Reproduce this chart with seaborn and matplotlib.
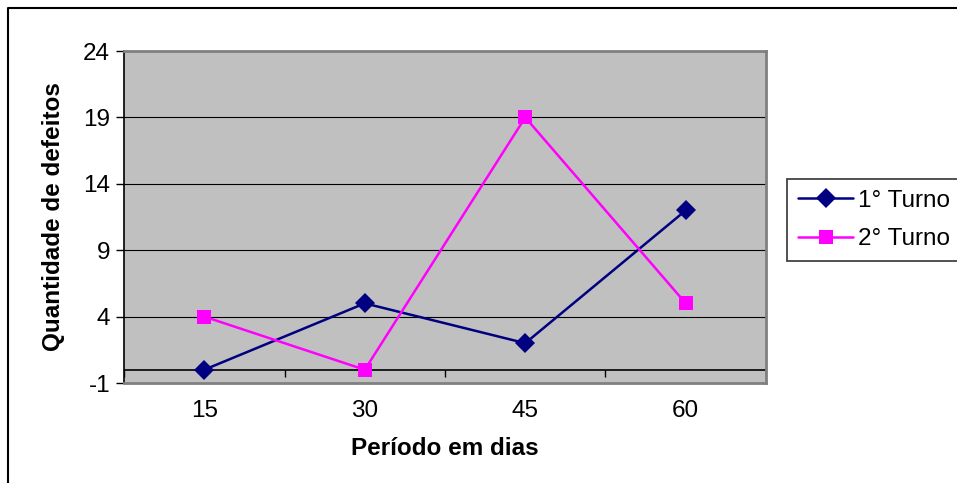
import matplotlib
matplotlib.use('Agg')
import matplotlib.pyplot as plt
import seaborn as sns
import pandas as pd
import numpy as np
from matplotlib.lines import Line2D

# dados
periodos = ['15', '30', '45', '60']
turno1 = [0, 5, 2, 12]
turno2 = [4, 0, 19, 5]
series = ['1° Turno', '2° Turno']
cores = ['#000080', '#FF00FF']
marcadores = ['D', 's']

df = pd.DataFrame({
    'pos': list(range(len(periodos))) * 2,
    'valor': turno1 + turno2,
    'serie': [series[0]] * 4 + [series[1]] * 4,
})

sns.set_style('white')
plt.rcParams['font.family'] = ['Liberation Sans', 'DejaVu Sans']
plt.rcParams['axes.unicode_minus'] = False
plt.rcParams['text.color'] = 'black'
plt.rcParams['axes.labelcolor'] = 'black'
plt.rcParams['xtick.color'] = 'black'
plt.rcParams['ytick.color'] = 'black'

fs = 17.5

fig = plt.figure(figsize=(9.57, 4.83), dpi=100)
ax = fig.add_axes([0.1296, 0.2070, 0.6708, 0.6874])
ax.set_facecolor('#C0C0C0')

sns.lineplot(data=df, x='pos', y='valor', hue='serie', style='serie',
             palette=cores, markers=marcadores, dashes=False,
             markersize=10, markeredgewidth=0, linewidth=1.8, ax=ax, legend=False)

ax.set_xlim(-0.5, 3.5)
ax.set_ylim(-1, 24)
ax.set_yticks(np.arange(-1, 25, 5))
ax.set_xticks(range(len(periodos)))
ax.set_xticklabels(periodos)
ax.tick_params(axis='x', length=0, pad=12, labelsize=fs)
ax.tick_params(axis='y', length=6, width=1, color='black', direction='out',
               left=True, pad=4, labelsize=fs)

for v in [4, 9, 14, 19]:
    ax.axhline(v, color='black', lw=0.8, zorder=1)
ax.axhline(0, color='black', lw=1.2, zorder=1)
ax.vlines(np.arange(-0.5, 4), -0.55, 0, color='black', lw=1, zorder=1)

for s in ['top', 'right', 'bottom']:
    ax.spines[s].set_color('#808080')
    ax.spines[s].set_linewidth(2)
ax.spines['left'].set_color('black')
ax.spines['left'].set_linewidth(1.2)

ax.set_xlabel('Período em dias', fontsize=fs, fontweight='bold', labelpad=11)
ax.set_ylabel('Quantidade de defeitos', fontsize=fs, fontweight='bold', labelpad=13)

handles = [Line2D([], [], color=c, marker=m, markersize=10, markeredgewidth=0, lw=1.8)
           for c, m in zip(cores, marcadores)]
leg = fig.legend(handles, series, loc='upper left', bbox_to_anchor=(0.822, 0.630),
                 fontsize=fs, frameon=True, fancybox=False, handlelength=2.3,
                 borderpad=0.45, labelspacing=0.68, handletextpad=0.2, borderaxespad=0)
leg.get_frame().set_edgecolor('black')
leg.get_frame().set_linewidth(1.2)

# moldura externa (esquerda e topo)
fig.add_artist(Line2D([8 / 957, 8 / 957, 1], [0, 1 - 8 / 483, 1 - 8 / 483],
                      color='black', lw=1.5, transform=fig.transFigure))

fig.savefig('out.png', dpi=100)
